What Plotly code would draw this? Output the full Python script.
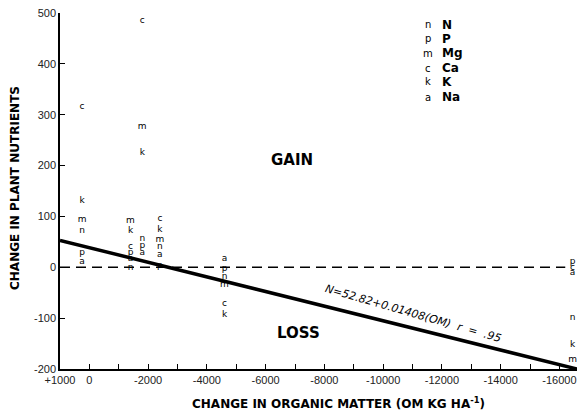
import plotly.graph_objects as go

# Site changes in organic matter (kg/ha) and nutrient changes at each site
site_om = [250, -1400, -1800, -2400, -4600, -16450]
nutrients = {
    "n": [71, -1, 56, 40, -19, -100],     # N
    "p": [28, 28, 42, 3, -3, 10],          # P
    "m": [93, 91, 276, 54, -35, -182],     # Mg
    "c": [315, 40, 484, 95, -72, 0],       # Ca
    "k": [130, 71, 225, 73, -94, -152],    # K
    "a": [10, 16, 28, 24, 16, -11],        # Na
}
legend_codes = ["n", "p", "m", "c", "k", "a"]
legend_names = ["N", "P", "Mg", "Ca", "K", "Na"]

# Regression line as drawn and the zero reference line
reg_om = [1000, -16600]
reg_n = [53, -200]
zero_om = [1000, -16200]
zero_n = [0, 0]

x_tickvals = [1000 - 1000 * i for i in range(18)]
x_ticktext = [("+1000" if v == 1000 else ("0" if v == 0 else ("" if (-v // 1000) % 2 else f"-{-v}")))
              for v in x_tickvals]
y_tickvals = [500, 400, 300, 200, 100, 0, -100, -200]
y_ticktext = ["500", "400", "300", "200", "100", "0", "-100", "-200"]

FONT = "DejaVu Sans"
TICKFONT = "Liberation Sans"
W, H = 577, 413
L, T = 60, 13
PW, PH = 517, 356
R, B = W - L - PW, H - T - PH


def px(x):
    return (x - L) / PW


def py(y):
    return (T + PH - y) / PH


fig = go.Figure()
fig.add_trace(go.Scatter(x=zero_om, y=zero_n, mode="lines",
                         line=dict(color="black", width=1.5, dash="10px,6px"),
                         hoverinfo="skip", showlegend=False))
fig.add_trace(go.Scatter(x=reg_om, y=reg_n, mode="lines",
                         line=dict(color="black", width=3.5),
                         hoverinfo="skip", showlegend=False))
for code, vals in nutrients.items():
    fig.add_trace(go.Scatter(x=site_om, y=vals, mode="text", text=[code] * len(vals),
                             textposition="middle center",
                             textfont=dict(family=FONT, size=9, color="black"),
                             cliponaxis=False, showlegend=False, name=code))

anns = []
row_y = [25, 39, 53, 68, 82, 97]
for code, name, yy in zip(legend_codes, legend_names, row_y):
    anns.append(dict(x=px(428), y=py(yy), xref="paper", yref="paper", text=code,
                     showarrow=False, xanchor="center", yanchor="middle",
                     font=dict(family=FONT, size=10, color="black")))
    anns.append(dict(x=px(440), y=py(yy), xref="paper", yref="paper", text="<b>" + name + "</b>",
                     showarrow=False, xanchor="left", yanchor="middle",
                     font=dict(family=FONT, size=12, color="black")))
anns.append(dict(x=px(292), y=py(160), xref="paper", yref="paper", text="<b>GAIN</b>",
                 showarrow=False, xanchor="center", yanchor="middle",
                 font=dict(family=FONT, size=15, color="black")))
anns.append(dict(x=px(298), y=py(333), xref="paper", yref="paper", text="<b>LOSS</b>",
                 showarrow=False, xanchor="center", yanchor="middle",
                 font=dict(family=FONT, size=15, color="black")))
anns.append(dict(x=px(413), y=py(313), xref="paper", yref="paper",
                 text="<i>N=52.82+0.01408(OM)  r  =  .95</i>", textangle=16,
                 showarrow=False, xanchor="center", yanchor="middle",
                 font=dict(family=FONT, size=11, color="black")))
# axis titles
anns.append(dict(x=px(338), y=py(403), xref="paper", yref="paper",
                 text="<b>CHANGE IN ORGANIC MATTER (OM KG HA<sup>-1</sup>)</b>",
                 showarrow=False, xanchor="center", yanchor="middle",
                 font=dict(family=FONT, size=12, color="black")))
anns.append(dict(x=px(15), y=py(188), xref="paper", yref="paper",
                 text="<b>CHANGE IN PLANT NUTRIENTS</b>", textangle=-90,
                 showarrow=False, xanchor="center", yanchor="middle",
                 font=dict(family=FONT, size=12, color="black")))

fig.update_layout(
    width=W, height=H,
    margin=dict(l=L, r=R, t=T, b=B),
    paper_bgcolor="white", plot_bgcolor="white",
    showlegend=False,
    annotations=anns,
    font=dict(family=FONT, color="black"),
    xaxis=dict(range=[1000, -16600], tickvals=x_tickvals, ticktext=x_ticktext,
               ticks="inside", ticklen=5, tickwidth=1, tickcolor="black",
               showline=True, linecolor="black", linewidth=1.5,
               showgrid=False, zeroline=False, automargin=False,
               ticklabeloverflow="allow",
               tickfont=dict(family=TICKFONT, size=11, color="#222")),
    yaxis=dict(range=[-200, 500], tickvals=y_tickvals, ticktext=y_ticktext,
               ticks="inside", ticklen=5, tickwidth=1, tickcolor="black",
               showline=True, linecolor="black", linewidth=1.5,
               showgrid=False, zeroline=False, automargin=False,
               ticklabeloverflow="allow",
               tickfont=dict(family=TICKFONT, size=11, color="#222")),
)
fig.write_html("out.html", config={"displayModeBar": False},
               post_script="document.body.style.margin='0';document.body.style.overflow='hidden';")
